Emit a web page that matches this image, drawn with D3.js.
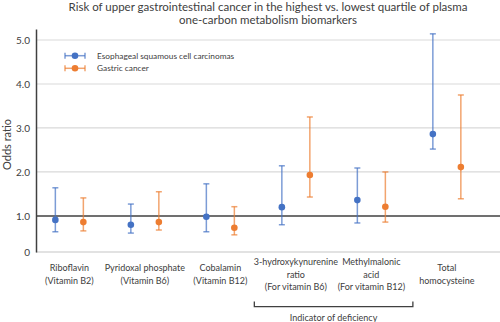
<!DOCTYPE html>
<html><head><meta charset="utf-8">
<script src="https://cdn.jsdelivr.net/npm/d3@7"></script>
<style>body{margin:0;background:#fff}svg{display:block;font-family:Lato,"Open Sans",sans-serif}</style>
</head><body><svg id="c" width="500" height="322"></svg>
<script>
const categories = [
  ["Riboflavin","(Vitamin B2)"],
  ["Pyridoxal phosphate","(Vitamin B6)"],
  ["Cobalamin","(Vitamin B12)"],
  ["3-hydroxykynurenine","ratio","(For vitamin B6)"],
  ["Methylmalonic","acid","(For vitamin B12)"],
  ["Total","homocysteine"]
];
const seriesNames = ["Esophageal squamous cell carcinomas","Gastric cancer"];
const escOR    = [0.91, 0.80, 0.98, 1.20, 1.36, 2.86];
const escLow   = [0.64, 0.61, 0.64, 0.80, 0.84, 2.52];
const escHigh  = [1.64, 1.27, 1.73, 2.14, 2.09, 5.14];
const gcOR     = [0.86, 0.86, 0.73, 1.93, 1.21, 2.11];
const gcLow    = [0.66, 0.68, 0.57, 1.43, 0.86, 1.39];
const gcHigh   = [1.41, 1.55, 1.21, 3.25, 2.00, 3.75];
const yTicks = [0.18, 1, 2, 3, 4, 5];
const yTickLabels = ["0", "1.0", "2.0", "3.0", "4.0", "5.0"];
const titleLines = ["Risk of upper gastrointestinal cancer in the highest vs. lowest quartile of plasma","one-carbon metabolism biomarkers"];
const groupLabel = "Indicator of deficiency";

(function(){
const colors = ["#4472C4", "#ED7D31"];
const svg = d3.select("#c");
const pL = 36, pR = 500, pT = 29, pB = 252;

const x = d3.scaleBand().domain(d3.range(categories.length)).range([31.6, 484.6]);
const y = d3.scaleLinear().domain([0.18, 5.25]).range([pB, pT]);

svg.append("g").selectAll("text").data(titleLines).join("text")
  .attr("x", 268).attr("y", (d,i)=>11 + i*13).attr("text-anchor","middle")
  .attr("font-size", 11.5).attr("fill","#404040").text(d=>d);

svg.append("g").selectAll("line").data(yTicks.filter(v=>v>1)).join("line")
  .attr("x1", pL).attr("x2", pR).attr("y1", d=>y(d)).attr("y2", d=>y(d))
  .attr("stroke","#d9d9d9").attr("stroke-width",1.2);
svg.append("line").attr("x1",pL).attr("x2",pR).attr("y1",y(yTicks[0])).attr("y2",y(yTicks[0]))
  .attr("stroke","#d9d9d9").attr("stroke-width",1.5);

const yAxis = d3.axisLeft(y).tickValues(yTicks).tickSize(0).tickPadding(6)
  .tickFormat((d,i)=>yTickLabels[i]);
const ya = svg.append("g").attr("transform",`translate(${pL},0)`).call(yAxis);
ya.select(".domain").attr("stroke","#404040").attr("stroke-width",1.5);
ya.selectAll("text").attr("font-size",10).attr("fill","#404040").attr("font-family","Lato,sans-serif");

svg.append("line").attr("x1",pL).attr("x2",pR).attr("y1",y(1)).attr("y2",y(1))
  .attr("stroke","#404040").attr("stroke-width",1.5);

svg.append("text").attr("transform",`translate(10.5,144.5) rotate(-90)`)
  .attr("text-anchor","middle").attr("font-size",11).attr("fill","#404040").text("Odds ratio");

const series = [
  {name: seriesNames[0], or: escOR, lo: escLow, hi: escHigh, off: -14},
  {name: seriesNames[1], or: gcOR, lo: gcLow, hi: gcHigh, off: 14}
];
const cx = i => x(i) + x.bandwidth()/2;
series.forEach((s, si) => {
  const g = svg.append("g");
  const data = categories.map((c,i)=>({i, or:s.or[i], lo:s.lo[i], hi:s.hi[i]}));
  g.selectAll("line.v").data(data).join("line").attr("class","v")
    .attr("x1", d=>cx(d.i)+s.off).attr("x2", d=>cx(d.i)+s.off)
    .attr("y1", d=>y(d.lo)).attr("y2", d=>y(d.hi))
    .attr("stroke", colors[si]).attr("stroke-opacity",0.7).attr("stroke-width",1.5);
  ["lo","hi"].forEach(k=>{
    g.selectAll("line."+k).data(data).join("line").attr("class",k)
      .attr("x1", d=>cx(d.i)+s.off-3).attr("x2", d=>cx(d.i)+s.off+3)
      .attr("y1", d=>y(d[k])).attr("y2", d=>y(d[k]))
      .attr("stroke", colors[si]).attr("stroke-opacity",0.7).attr("stroke-width",1.5);
  });
  g.selectAll("circle").data(data).join("circle")
    .attr("cx", d=>cx(d.i)+s.off).attr("cy", d=>y(d.or)).attr("r",3.3)
    .attr("fill", colors[si]);
});

const lg = svg.append("g");
series.forEach((s, si) => {
  const ly = 55.7 + si*12.6;
  lg.append("line").attr("x1",65).attr("x2",85).attr("y1",ly).attr("y2",ly)
    .attr("stroke",colors[si]).attr("stroke-opacity",0.7).attr("stroke-width",1.5);
  [65,85].forEach(xx=>lg.append("line").attr("x1",xx).attr("x2",xx).attr("y1",ly-3).attr("y2",ly+3)
    .attr("stroke",colors[si]).attr("stroke-opacity",0.7).attr("stroke-width",1.5));
  lg.append("circle").attr("cx",75).attr("cy",ly).attr("r",3.3).attr("fill",colors[si]);
  lg.append("text").attr("x",97).attr("y",ly+3).attr("font-size",8.3).attr("fill","#404040").text(s.name);
});

const xl = svg.append("g");
categories.forEach((lines, i) => {
  const n = lines.length;
  const startY = 274.5 - (n-1)*12.5/2 + 3.2;
  xl.append("g").selectAll("text").data(lines).join("text")
    .attr("x", cx(i)).attr("y", (d,k)=>startY + k*12.5).attr("text-anchor","middle")
    .attr("font-size",9).attr("fill","#404040").text(d=>d);
});

const bw = x.bandwidth();
const bx1 = cx(3) - bw*0.55, bx2 = cx(4) + bw*0.55;
svg.append("path").attr("d", `M${bx1},301.5V306.7H${bx2}V301.5`).attr("fill","none")
  .attr("stroke","#404040").attr("stroke-width",1.3);
svg.append("text").attr("x",(bx1+bx2)/2).attr("y",321).attr("text-anchor","middle")
  .attr("font-size",9).attr("fill","#404040").text(groupLabel);
})();
</script></body></html>
